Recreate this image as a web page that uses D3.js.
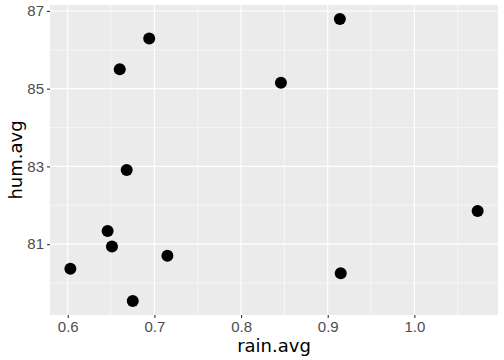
<!DOCTYPE html>
<html>
<head>
<meta charset="utf-8">
<script src="https://cdn.jsdelivr.net/npm/d3@7"></script>
<style>
  body { margin: 0; background: #fff; }
  svg { display: block; font-family: "DejaVu Sans", sans-serif; }
</style>
</head>
<body>
<script>
// values
const rainAvg = [0.914, 0.694, 0.660, 0.846, 0.668, 1.073, 0.646, 0.651, 0.715, 0.603, 0.915, 0.675];
const humAvg  = [86.79, 86.29, 85.50, 85.15, 82.91, 81.85, 81.34, 80.94, 80.70, 80.37, 80.25, 79.54];
const xTicks = [0.6, 0.7, 0.8, 0.9, 1.0];
const yTicks = [81, 83, 85, 87];

const W = 504, H = 360;
const margin = { top: 5, right: 6, bottom: 45, left: 50 };

const svg = d3.select("body").append("svg")
    .attr("width", W)
    .attr("height", H);

// ggplot style 5% expansion
const pad = (ext) => { const d = (ext[1] - ext[0]) * 0.05; return [ext[0] - d, ext[1] + d]; };

const x = d3.scaleLinear()
    .domain(pad(d3.extent(rainAvg)))
    .range([margin.left, W - margin.right]);
const y = d3.scaleLinear()
    .domain(pad(d3.extent(humAvg)))
    .range([H - margin.bottom, margin.top]);

// panel
svg.append("rect")
    .attr("x", margin.left).attr("y", margin.top)
    .attr("width", W - margin.right - margin.left)
    .attr("height", H - margin.bottom - margin.top)
    .attr("fill", "#EBEBEB");

const xMinor = d3.range(0.55, 1.1, 0.1).filter(v => v > x.domain()[0] && v < x.domain()[1]);
const yMinor = [80, 82, 84, 86];

const grid = svg.append("g").attr("stroke", "#fff").attr("fill", "none");
grid.selectAll(".xmin").data(xMinor).enter().append("line")
    .attr("x1", d => x(d)).attr("x2", d => x(d))
    .attr("y1", margin.top).attr("y2", H - margin.bottom)
    .attr("stroke-width", 0.55);
grid.selectAll(".ymin").data(yMinor).enter().append("line")
    .attr("y1", d => y(d)).attr("y2", d => y(d))
    .attr("x1", margin.left).attr("x2", W - margin.right)
    .attr("stroke-width", 0.55);
grid.selectAll(".xmaj").data(xTicks).enter().append("line")
    .attr("x1", d => x(d)).attr("x2", d => x(d))
    .attr("y1", margin.top).attr("y2", H - margin.bottom)
    .attr("stroke-width", 1.1);
grid.selectAll(".ymaj").data(yTicks).enter().append("line")
    .attr("y1", d => y(d)).attr("y2", d => y(d))
    .attr("x1", margin.left).attr("x2", W - margin.right)
    .attr("stroke-width", 1.1);

// axes
const xAxis = svg.append("g")
    .attr("transform", "translate(0," + (H - margin.bottom) + ")")
    .call(d3.axisBottom(x).tickValues(xTicks).tickFormat(d3.format(".1f")).tickSize(3).tickPadding(3));
const yAxis = svg.append("g")
    .attr("transform", "translate(" + margin.left + ",0)")
    .call(d3.axisLeft(y).tickValues(yTicks).tickSize(3).tickPadding(3));

[xAxis, yAxis].forEach(a => {
    a.select(".domain").remove();
    a.selectAll(".tick line").attr("stroke", "#333333").attr("stroke-width", 1.1);
    a.selectAll(".tick text").attr("fill", "#4D4D4D").style("font-size", "15px");
});

// points
svg.append("g").selectAll("circle")
    .data(rainAvg.map((r, i) => [r, humAvg[i]]))
    .enter().append("circle")
    .attr("cx", d => x(d[0]))
    .attr("cy", d => y(d[1]))
    .attr("r", 6)
    .attr("fill", "#000");

// axis titles
svg.append("text")
    .attr("x", (margin.left + W - margin.right) / 2)
    .attr("y", 352)
    .attr("text-anchor", "middle")
    .style("font-size", "18px")
    .text("rain.avg");

svg.append("text")
    .attr("transform", "translate(22," + (margin.top + H - margin.bottom) / 2 + ") rotate(-90)")
    .attr("text-anchor", "middle")
    .style("font-size", "18px")
    .text("hum.avg");
</script>
</body>
</html>
